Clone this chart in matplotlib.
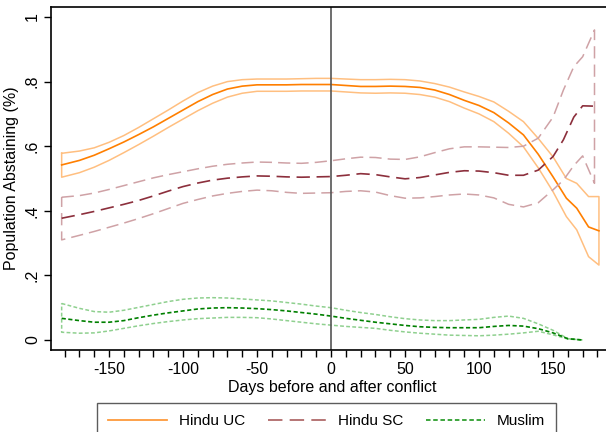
import numpy as np
import matplotlib
matplotlib.use("Agg")
import matplotlib.pyplot as plt
from matplotlib.lines import Line2D

plt.rcParams['font.family'] = ['Liberation Sans', 'DejaVu Sans']
plt.rcParams['axes.unicode_minus'] = False

# common day grid, each group adds its own tail
days = [-182, -170, -160, -150, -140, -130, -120, -110, -100, -90, -80, -70,
        -60, -50, -40, -30, -20, -10, 0, 10, 20, 30, 40, 50, 60, 70, 80, 90,
        100, 110, 120, 130, 140, 150]

# Hindu UC
uc_tail = [159, 166, 174, 181]
uc_mean = [.542, .556, .572, .592, .613, .636, .660, .686, .712, .738, .760, .777,
           .786, .790, .790, .790, .791, .791, .791, .788, .785, .785, .786, .785,
           .782, .774, .760, .742, .726, .704, .672, .635, .575, .505,
           .439, .408, .350, .338]
uc_hi = [.578, .585, .595, .612, .633, .658, .685, .712, .740, .766, .786, .800,
         .806, .808, .808, .808, .809, .810, .810, .808, .806, .806, .807, .806,
         .802, .794, .783, .768, .754, .737, .708, .676, .624, .567,
         .500, .485, .444, .444]
uc_lo = [.504, .518, .535, .556, .580, .605, .631, .658, .684, .710, .733, .752,
         .764, .770, .770, .770, .771, .771, .771, .768, .765, .764, .765, .764,
         .760, .752, .738, .718, .700, .676, .640, .598, .533, .459,
         .382, .341, .258, .232]

# Hindu SC
sc_tail = [157, 164, 170, 178]
sc_mean = [.377, .388, .398, .409, .420, .432, .446, .461, .475, .486, .495, .501,
           .505, .508, .507, .505, .504, .505, .506, .510, .515, .512, .505, .499,
           .503, .511, .519, .524, .523, .518, .510, .510, .526, .568,
           .620, .690, .725, .724]
sc_hi = [.442, .447, .455, .466, .478, .490, .502, .512, .521, .530, .538, .544,
         .548, .551, .550, .548, .547, .550, .555, .561, .566, .565, .560, .559,
         .567, .580, .592, .598, .598, .597, .596, .600, .625, .690,
         .774, .846, .877, .960]
sc_lo = [.310, .324, .336, .349, .362, .376, .391, .407, .423, .435, .446, .454,
         .460, .464, .462, .457, .454, .455, .456, .460, .462, .458, .447, .439,
         .440, .444, .449, .452, .449, .440, .420, .412, .425, .465,
         .495, .540, .570, .485]

# Muslim
mu_tail = [160, 170]
mu_mean = [.067, .060, .055, .055, .060, .069, .077, .084, .090, .096, .099, .100,
           .099, .097, .094, .090, .085, .080, .074, .067, .061, .055, .050, .045,
           .041, .039, .038, .038, .038, .042, .045, .043, .035, .022,
           .004, .000]
mu_hi = [.113, .098, .088, .086, .092, .101, .110, .119, .126, .130, .131, .130,
         .127, .124, .121, .116, .111, .105, .100, .092, .085, .079, .072, .066,
         .062, .060, .060, .062, .064, .070, .074, .067, .050, .030,
         .004, .000]
mu_lo = [.024, .021, .022, .028, .036, .044, .051, .057, .062, .066, .068, .070,
         .070, .069, .065, .060, .055, .050, .046, .042, .039, .036, .030, .025,
         .021, .018, .015, .014, .013, .015, .018, .022, .027, .016,
         .003, .000]

groups = [
    ("Hindu UC", uc_tail, uc_mean, uc_hi, uc_lo, '#ff7f00', '#ffbf80', '#fd9a3c', '-'),
    ("Hindu SC", sc_tail, sc_mean, sc_hi, sc_lo, '#8c2f3c', '#cfa2a6', '#b06a6a', (0, (8, 4))),
    ("Muslim", mu_tail, mu_mean, mu_hi, mu_lo, '#008000', '#8fd08f', '#2e9e2e', (0, (2.5, 1.5))),
]

fig = plt.figure(figsize=(6.06, 4.32), dpi=100)
ax = fig.add_axes([51 / 606, 82 / 432, 562 / 606, 343 / 432])

handles = []
for name, tail, mean, hi, lo, c_mean, c_band, c_key, ls in groups:
    x = np.array(days + tail)
    # confidence band drawn as a closed outline
    bx = np.concatenate([x, x[::-1], x[:1]])
    by = np.concatenate([hi, lo[::-1], hi[:1]])
    ax.plot(bx, by, color=c_band, lw=1.1, ls=ls)
    ax.plot(x, mean, color=c_mean, lw=1.2, ls=ls)
    handles.append(Line2D([], [], color=c_key, lw=1.3, ls=ls, label=name))

ax.axvline(0, color='#555555', lw=1.2)

ax.set_xlim(-189.2, 190.5)
ax.set_ylim(-0.031, 1.031)
ax.set_xticks([-150, -100, -50, 0, 50, 100, 150])
ax.set_xticks(np.arange(-180, 181, 10), minor=True)
ax.set_yticks([0, .2, .4, .6, .8, 1])
ax.set_yticklabels(['0', '.2', '.4', '.6', '.8', '1'], rotation=90, va='center')
ax.tick_params(axis='both', which='both', direction='out', length=5, width=1,
               labelsize=11.5, colors='black')
ax.tick_params(axis='y', pad=3)
ax.spines['right'].set_visible(False)
for s in ['left', 'top', 'bottom']:
    ax.spines[s].set_linewidth(1.2)

ax.set_xlabel('Days before and after conflict', fontsize=11.5, labelpad=2)
ax.set_ylabel('Population Abstaining (%)', fontsize=11.5, labelpad=4)

leg = fig.legend(handles=handles, loc='upper left', bbox_to_anchor=(97 / 606, 1 - 403 / 432),
                 borderaxespad=0, ncol=3, fontsize=11, frameon=True, fancybox=False,
                 handlelength=3.8, handletextpad=0.8, columnspacing=1.5, borderpad=0.75,
                 edgecolor='#333333')
leg.get_frame().set_linewidth(1.0)

fig.savefig('out.png', dpi=100)
